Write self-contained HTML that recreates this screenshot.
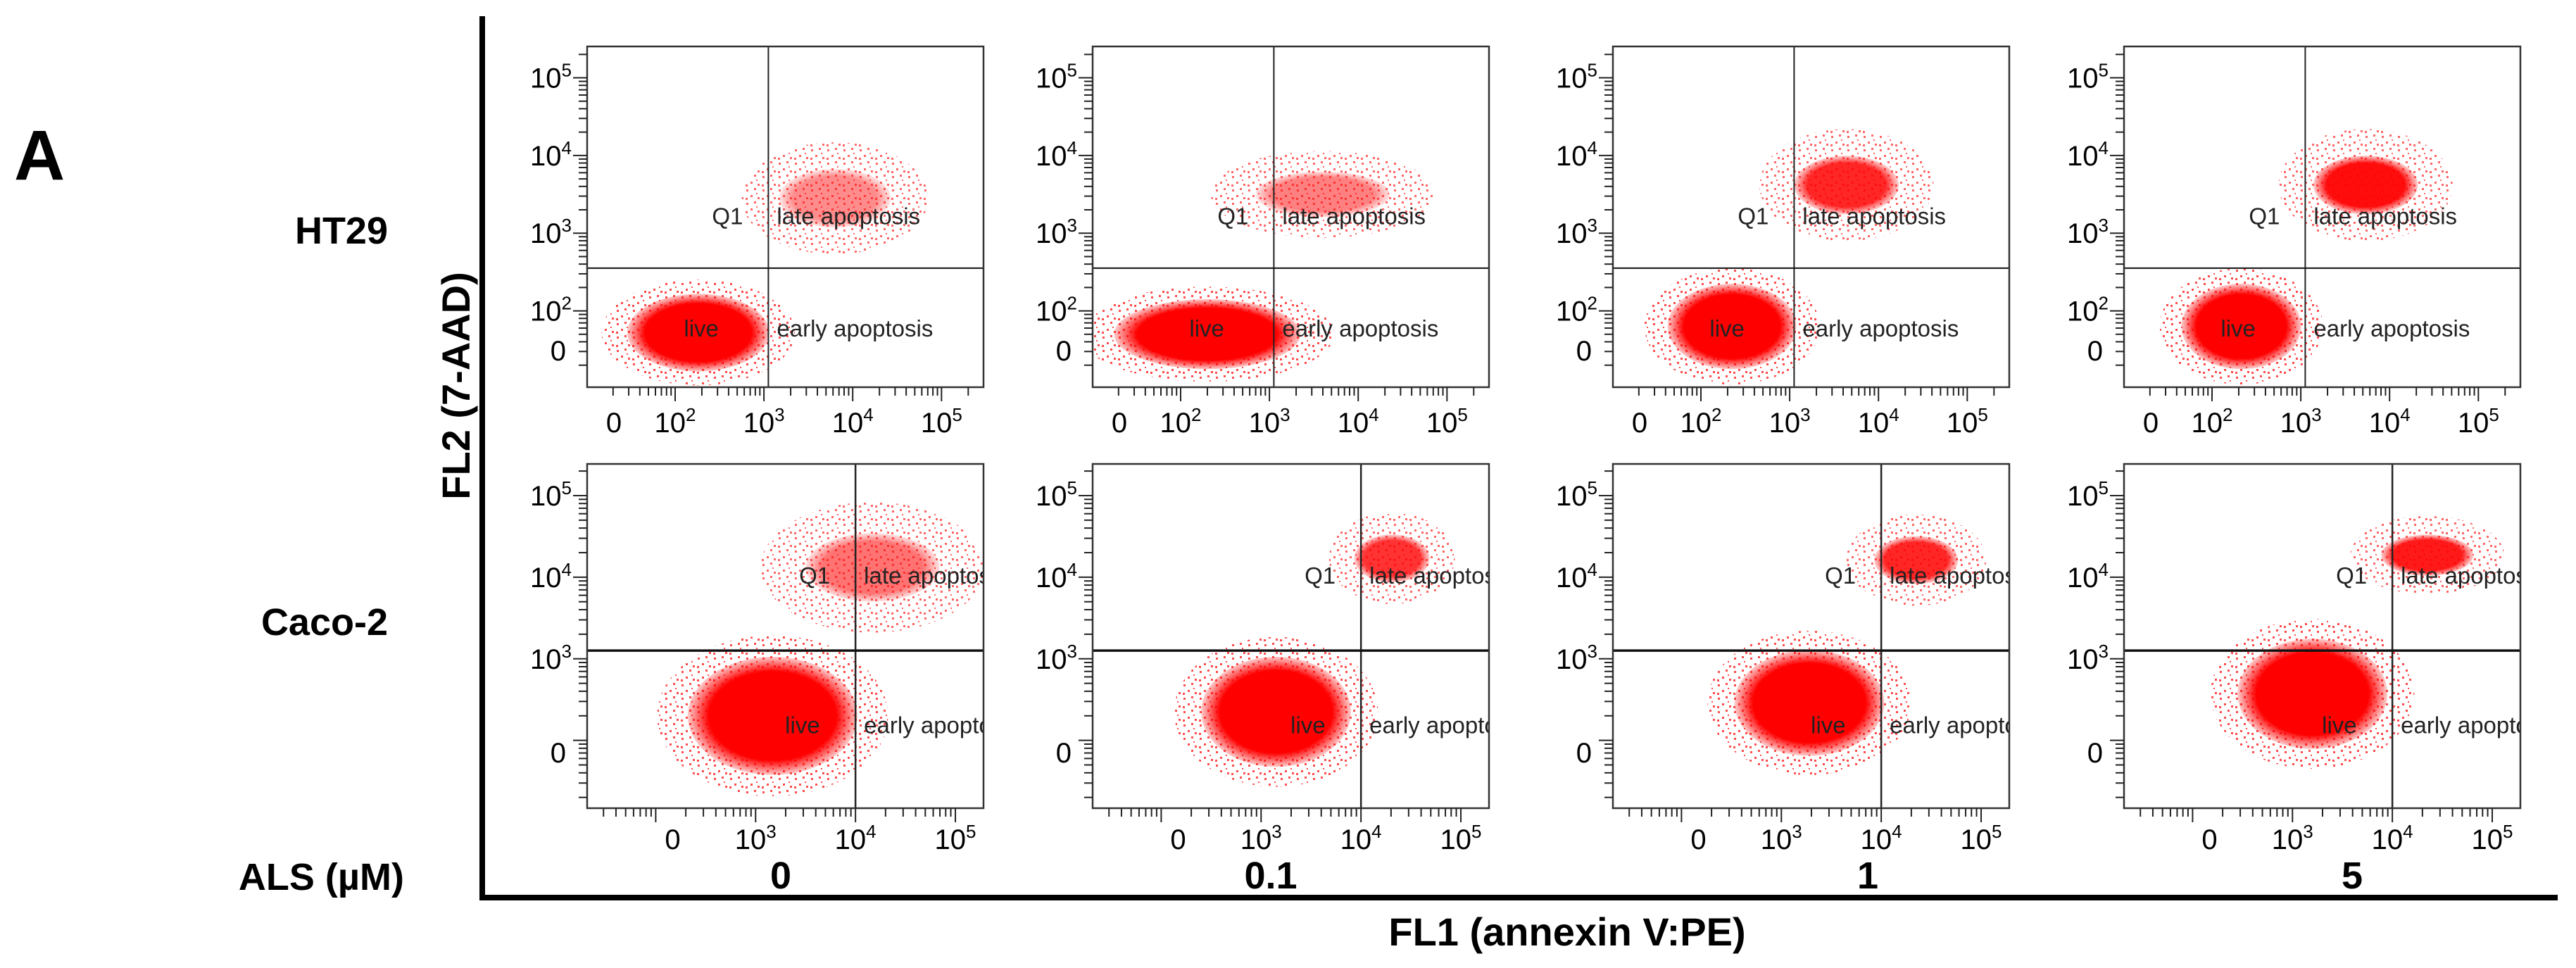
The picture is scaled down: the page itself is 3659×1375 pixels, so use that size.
<!DOCTYPE html>
<html><head><meta charset="utf-8">
<style>
html,body{margin:0;padding:0;background:#fff;}
svg{display:block;font-family:"Liberation Sans",sans-serif;}
</style></head>
<body>
<svg id="fig" width="3659" height="1375" viewBox="0 0 3659 1375" xmlns="http://www.w3.org/2000/svg">
<defs>
<radialGradient id="blob"><stop offset="0" stop-color="#ff0000" stop-opacity="1"/><stop offset="0.75" stop-color="#ff0000" stop-opacity="1"/><stop offset="1" stop-color="#ff0000" stop-opacity="0.2"/></radialGradient>
<pattern id="dots" width="23" height="19" patternUnits="userSpaceOnUse">
<rect x="2" y="3" width="3" height="3" fill="#ff0000"/><rect x="13" y="1" width="3" height="3" fill="#ff0000"/>
<rect x="8" y="11" width="3" height="3" fill="#ff0000"/><rect x="18" y="14" width="3" height="3" fill="#ff0000"/>
<rect x="1" y="15" width="3" height="3" fill="#ff0000"/><rect x="16" y="8" width="2" height="2" fill="#ff0000"/>
</pattern>
</defs>
<text x="20" y="255" font-size="100" font-weight="bold">A</text>
<text x="551" y="346" font-size="54" font-weight="bold" text-anchor="end">HT29</text>
<text x="551" y="902" font-size="54" font-weight="bold" text-anchor="end">Caco-2</text>
<text x="574" y="1264" font-size="54" font-weight="bold" text-anchor="end">ALS (µM)</text>
<text x="0" y="0" font-size="56" font-weight="bold" text-anchor="middle" transform="translate(667,548) rotate(-90)">FL2 (7-AAD)</text>
<text x="2226" y="1343" font-size="56" font-weight="bold" text-anchor="middle">FL1 (annexin V:PE)</text>
<line x1="685" y1="23" x2="685" y2="1279" stroke="#000" stroke-width="8"/>
<line x1="681" y1="1275" x2="3633" y2="1275" stroke="#000" stroke-width="8"/>
<g id="panels"></g>
</svg>
<script>
// ---- data ----
const doses = ["0","0.1","1","5"];
const cellLines = ["HT29","Caco-2"];
// per panel order: HT29 x4 doses, then Caco-2 x4 doses (values in log10 units; W/H = full extent in decades)
const liveX = [2.26, 2.3, 2.35, 2.33, 3.17, 3.15, 3.28, 3.2];
const liveY = [1.72, 1.7, 1.8, 1.8, 2.3, 2.35, 2.46, 2.57];
const liveW = [1.6, 2.1, 1.45, 1.35, 1.7, 1.5, 1.5, 1.5];
const liveH = [1.0, 0.9, 1.1, 1.1, 1.45, 1.35, 1.3, 1.35];
const lateX = [3.8, 3.6, 3.64, 3.73, 4.17, 4.31, 4.35, 4.35];
const lateY = [3.45, 3.5, 3.62, 3.62, 4.12, 4.23, 4.21, 4.27];
const lateW = [1.5, 1.8, 1.4, 1.4, 1.6, 0.9, 1.0, 1.1];
const lateH = [0.9, 0.7, 0.9, 0.9, 1.0, 0.7, 0.7, 0.6];
const lateDensity = [0.45, 0.5, 0.85, 0.95, 0.55, 0.8, 0.85, 0.9];
const xTickLabelsTop = ["0","2","3","4","5"];
const xTickLabelsBottom = ["0","3","4","5"];
const yTickLabelsTop = ["0","2","3","4","5"];
const yTickLabelsBottom = ["0","3","4","5"];
const quadGateX = [3.05, 4.0];
const quadGateY = [2.55, 3.1];

// ---- layout ----
const NS = "http://www.w3.org/2000/svg";
const colX = [834, 1552, 2291, 3017];
const panelW = 563;
const rowTop = [66, 659], rowH = [484, 489];
const rowXAxis = [{a:2, f:0.222, d:0.224, zero:1.31}, {a:4, f:0.677, d:0.252, zero:2.17}];
const rowYAxis = [{a:3, f:0.548, d:0.228, zero:1.49}, {a:3, f:0.566, d:0.237, zero:1.85}];
const doseX = [1109, 1805, 2653, 3341];

function xs(v, r, c){ const ax=rowXAxis[r]; return colX[c] + panelW*(ax.f + (v-ax.a)*ax.d); }
function ys(v, r){ const ax=rowYAxis[r]; return rowTop[r] + rowH[r]*(ax.f - (v-ax.a)*ax.d); }
function xd(w, r){ return panelW*rowXAxis[r].d*w; }
function yd(h, r){ return rowH[r]*rowYAxis[r].d*h; }
function mk(tag, attrs, parent){ const e=document.createElementNS(NS,tag); for(const k in attrs) e.setAttribute(k,attrs[k]); parent.appendChild(e); return e; }

const root = document.getElementById("panels");
for (let r=0; r<2; r++){
  for (let c=0; c<4; c++){
    const i = r*4+c;
    const x0 = colX[c], y0 = rowTop[r], w = panelW, h = rowH[r];
    const g = mk("g", {}, root);
    
    
    const cp = mk("clipPath", {id:"cp"+i}, g);
    mk("rect", {x:x0, y:y0, width:w, height:h}, cp);
    const inner = mk("g", {"clip-path":"url(#cp"+i+")"}, g);
    // sparse scatter halos
    const lh = mk("ellipse", {cx:xs(liveX[i],r,c), cy:ys(liveY[i],r), rx:xd(liveW[i],r)*0.68, ry:yd(liveH[i],r)*0.68, fill:"url(#dots)", opacity:0.7}, inner);
    
    
    const th = mk("ellipse", {cx:xs(lateX[i],r,c), cy:ys(lateY[i],r), rx:xd(lateW[i],r)*0.7, ry:yd(lateH[i],r)*0.8, fill:"url(#dots)", opacity:0.6}, inner);
    
    
    const lb = mk("ellipse", {cx:xs(liveX[i],r,c), cy:ys(liveY[i],r), rx:xd(liveW[i],r)*0.5, ry:yd(liveH[i],r)*0.5, fill:"url(#blob)"}, inner);
    
    
    const tb = mk("ellipse", {cx:xs(lateX[i],r,c), cy:ys(lateY[i],r), rx:xd(lateW[i],r)*0.42, ry:yd(lateH[i],r)*0.42, fill:"url(#blob)", opacity:lateDensity[i]}, inner);
    
    
    // quadrant gates
    const gx = xs(quadGateX[r], r, c), gy = ys(quadGateY[r], r);
    const qv = mk("line", {x1:gx, y1:y0, x2:gx, y2:y0+h, stroke:"#222", "stroke-width": r?2.5:2}, inner);
    
    
    const qh = mk("line", {x1:x0, y1:gy, x2:x0+w, y2:gy, stroke:"#111", "stroke-width": r?3.5:2}, inner);
    
    
    // quadrant labels
    const fs = 33;
    const ql = [["Q1", gx-80, r? gy-95 : y0+h*0.497+12], ["late apoptosis", gx+12, r? gy-95 : y0+h*0.497+12],
                ["live", r? gx-100: gx-120, r? y0+h*0.758+12 : y0+h*0.826+12], ["early apoptosis", gx+12, r? y0+h*0.758+12 : y0+h*0.826+12]];
    const qn = ["q1-label","late-apoptosis-label","live-label","early-apoptosis-label"];
    ql.forEach((q,k)=>{ const t=mk("text",{x:q[1], y:q[2], "font-size":fs, fill:"#222"}, inner); t.textContent=q[0];
      
       });
    // box
    const bx = mk("rect", {x:x0, y:y0, width:w, height:h, fill:"none", stroke:"#333", "stroke-width":2.5}, g);
    
    
    // ticks
    const tk = mk("g", {stroke:"#222", "stroke-width":2}, g);
    
    
    const xl = r? xTickLabelsBottom : xTickLabelsTop, yl = r? yTickLabelsBottom : yTickLabelsTop;
    const xStart = Math.floor(rowXAxis[r].zero)-1, yStart = Math.floor(rowYAxis[r].zero)-1;
    for (let d=xStart; d<=5; d++){ for (let k=1;k<10;k++){ const v=d+Math.log10(k); const px=xs(v,r,c);
      if(px<x0||px>x0+w) continue; mk("line",{x1:px,y1:y0+h,x2:px,y2:y0+h+(k===1?20:12)},tk);} }
    for (let d=yStart; d<=5; d++){ for (let k=1;k<10;k++){ const v=d+Math.log10(k); const py=ys(v,r);
      if(py<y0||py>y0+h) continue; mk("line",{x1:x0,y1:py,x2:x0-(k===1?20:12),y2:py},tk);} }
    // tick labels
    xl.forEach(lbl=>{ const v = lbl==="0"? rowXAxis[r].zero : +lbl; const t=mk("text",{x:xs(v,r,c), y:y0+h+(r?58:64), "font-size":40, "text-anchor":"middle"}, g);
      
      
      if(lbl==="0") t.textContent="0"; else { t.textContent="10"; const s=mk("tspan",{"font-size":26, dy:-16},t); s.textContent=lbl; } });
    yl.forEach(lbl=>{ const v = lbl==="0"? rowYAxis[r].zero : +lbl; const t=mk("text",{x:x0-(lbl==="0"?30:22), y:ys(v,r)+14, "font-size":40, "text-anchor":"end"}, g);
      
      
      if(lbl==="0") t.textContent="0"; else { t.textContent="10"; const s=mk("tspan",{"font-size":26, dy:-16},t); s.textContent=lbl; } });
  }
}
doses.forEach((d,c)=>{ const t=mk("text",{x:doseX[c], y:1262, "font-size":54, "font-weight":"bold", "text-anchor":"middle"}, root); t.textContent=d;
  
   });
</script>
</body></html>
